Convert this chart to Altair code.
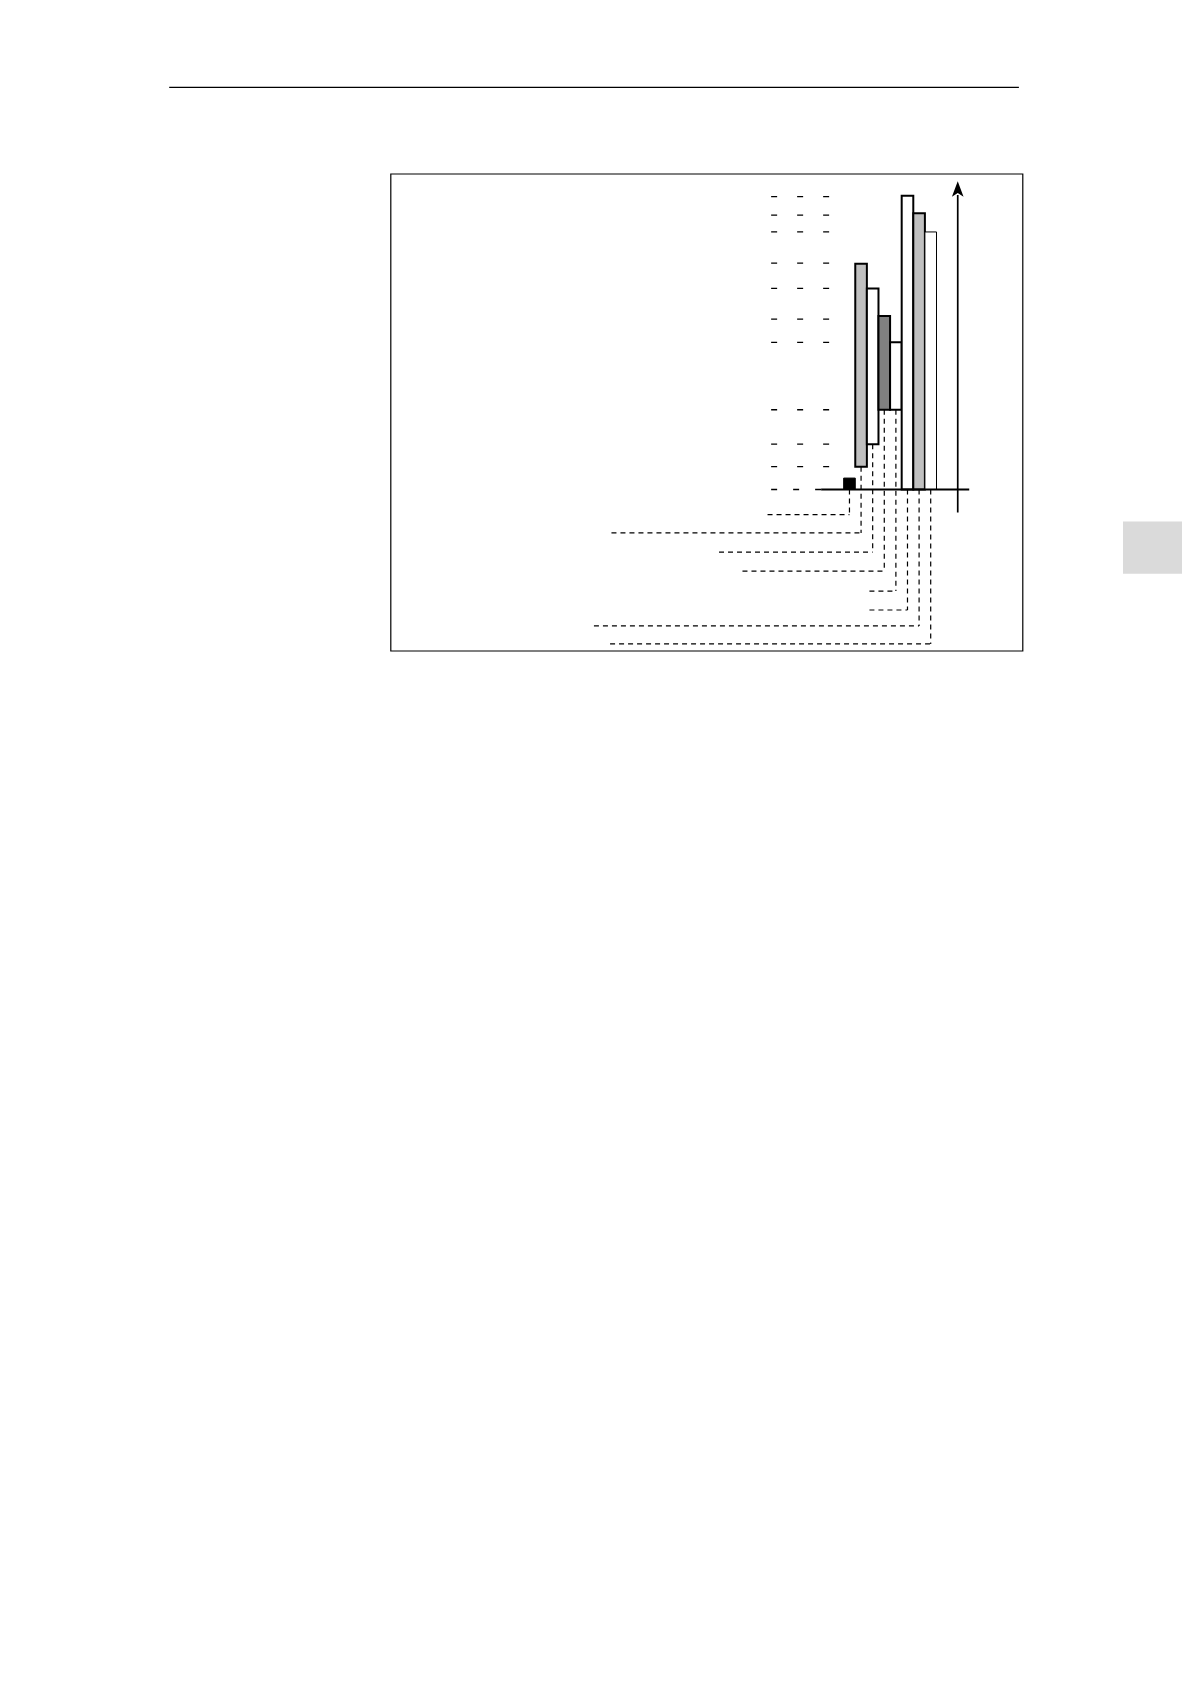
import altair as alt
import pandas as pd

# ---- diagram values (x in slot units, y in level units, baseline = 0) ----
levels = [97.7, 91.5, 85.9, 75.5, 67.1, 56.8, 49.1, 26.6, 15.1, 7.6, 0.0]

bar_slot = [0, 1, 2, 3, 4, 5, 6, 7]
bar_bottom = [0.0, 7.6, 15.1, 26.6, 26.6, 0.0, 0.0, 0.0]
bar_top = [3.8, 75.3, 67.0, 57.9, 49.1, 98.0, 92.1, 85.9]
bar_fill = ["#000000", "#c0c0c0", "#ffffff", "#808080", "#ffffff", "#ffffff", "#c0c0c0", "#ffffff"]
bar_line = [1.0, 2.0, 2.0, 2.0, 2.0, 2.0, 2.0, 1.0]

drop_bottom = [-8.4, -14.5, -20.9, -27.2, -33.9, -40.2, -45.5, -51.5]
leader_left = [-6.56, -20.01, -10.74, -8.72, 2.22, 2.22, -21.52, -20.13]

axis_x = 9.83
axis_low = -7.7
axis_tip = 100.2
baseline_from = -1.94
baseline_to = 10.82
level_from = -6.25
level_to = -1.25

header_x = [-58.12, 15.1]
header_y = 134.13
tab_x = [24.07, 30.6]
tab_y = [-10.67, -28.1]

# ---- scales ----
X = alt.Scale(domain=[-39.05, 15.41], nice=False, zero=False)
Y = alt.Scale(domain=[-53.77, 105.33], nice=False, zero=False)

def xq(f):
    return alt.X(f, type="quantitative", scale=X, axis=None)

def yq(f):
    return alt.Y(f, type="quantitative", scale=Y, axis=None)

bars = pd.DataFrame({"slot": bar_slot, "lo": bar_bottom, "hi": bar_top,
                     "fill": bar_fill, "sw": bar_line})
bars["x1"] = bars["slot"]
bars["x2"] = bars["slot"] + 1

drops = pd.DataFrame({"cx": [s + 0.5 for s in bar_slot], "top": bar_bottom,
                      "bot": drop_bottom, "left": leader_left})

lev = pd.DataFrame({"y": levels[:-1]})
lev["a"] = level_from
lev["b"] = level_to
lev0 = pd.DataFrame({"y": [levels[-1]], "a": [level_from], "b": [baseline_from]})

base = pd.DataFrame({"a": [baseline_from], "b": [baseline_to], "y": [0.0]})
axis = pd.DataFrame({"x": [axis_x], "lo": [axis_low], "hi": [axis_tip - 2.0],
                     "tip": [axis_tip]})
header = pd.DataFrame({"a": [header_x[0]], "b": [header_x[1]], "y": [header_y]})
tab = pd.DataFrame({"a": [tab_x[0]], "b": [tab_x[1]], "lo": [tab_y[1]], "hi": [tab_y[0]]})

level_marks = alt.Chart(lev).mark_rule(color="black", strokeWidth=1.3, strokeDash=[6, 20]).encode(
    x=xq("a"), x2="b", y=yq("y"))
level0_mark = alt.Chart(lev0).mark_rule(color="black", strokeWidth=1.3, strokeDash=[6, 16]).encode(
    x=xq("a"), x2="b", y=yq("y"))

leaders = alt.Chart(drops).mark_rule(color="black", strokeWidth=1.2, strokeDash=[5, 4]).encode(
    x=xq("left"), x2="cx", y=yq("bot"))
verticals = alt.Chart(drops).mark_rule(color="black", strokeWidth=1.2, strokeDash=[5, 4]).encode(
    x=xq("cx"), y=yq("top"), y2="bot")

rects = alt.Chart(bars).mark_rect(stroke="black").encode(
    x=xq("x1"), x2="x2", y=yq("lo"), y2="hi",
    fill=alt.Fill("fill:N", scale=None),
    strokeWidth=alt.StrokeWidth("sw:Q", scale=None))

baseline = alt.Chart(base).mark_rule(color="black", strokeWidth=2).encode(
    x=xq("a"), x2="b", y=yq("y"))

shaft = alt.Chart(axis).mark_rule(color="black", strokeWidth=1.7).encode(
    x=xq("x"), y=yq("lo"), y2="hi")
head = alt.Chart(axis).mark_point(
    shape="M0,-1L0.75,1L0,0.5L-0.75,1Z", filled=True, color="black", size=240, opacity=1
).encode(x=xq("x"), y=yq("tip"))

header_line = alt.Chart(header).mark_rule(color="black", strokeWidth=1.3).encode(
    x=xq("a"), x2="b", y=yq("y"))
tab_rect = alt.Chart(tab).mark_rect(color="#dadada").encode(
    x=xq("a"), x2="b", y=yq("lo"), y2="hi")

chart = alt.layer(
    tab_rect, header_line, level_marks, level0_mark, leaders, verticals,
    rects, baseline, shaft, head
).properties(
    width=632, height=477,
    autosize=alt.AutoSizeParams(type="none"),
    padding={"left": 382.5, "top": 165.7, "right": 159, "bottom": 40},
    background="white",
).configure_view(stroke="black", strokeWidth=1.2)

chart.save("out.html", embed_options={"renderer": "svg", "actions": False})
